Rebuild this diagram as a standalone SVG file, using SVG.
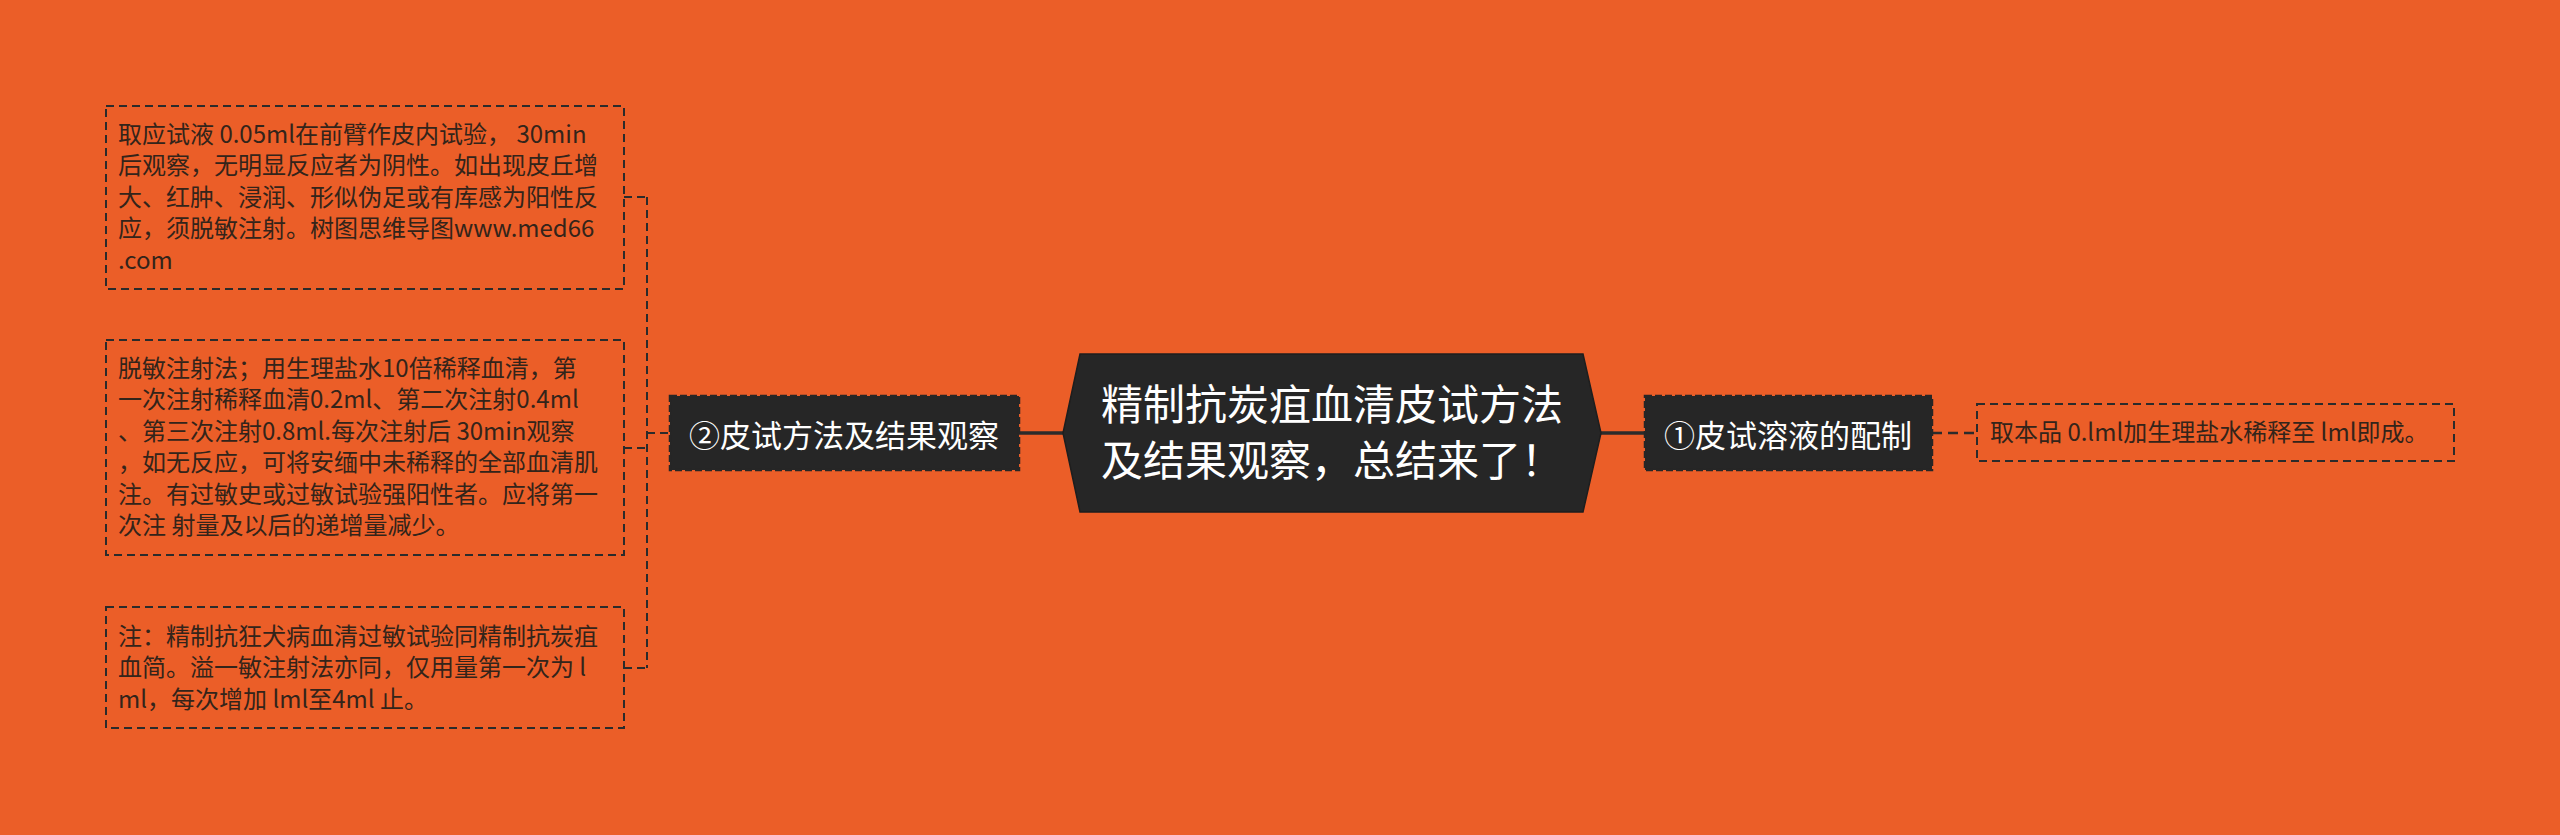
<svg xmlns="http://www.w3.org/2000/svg" width="2560" height="835" viewBox="0 0 2560 835">
<style>
.bg{fill:#EB5E28}
.leaf{fill:none;stroke:#2b2b2b;stroke-width:2;stroke-dasharray:8 5}
.lt{font-family:"Noto Sans CJK SC","Noto Sans",sans-serif;font-size:24px;fill:#33241a}
.node{fill:#262626;stroke:#262626;stroke-width:2.5;stroke-dasharray:7 3}
.nt{font-family:"Noto Sans CJK SC","Noto Sans",sans-serif;font-size:31px;fill:#ffffff;text-anchor:middle;dominant-baseline:central}
.rt{font-family:"Noto Sans CJK SC","Noto Sans",sans-serif;font-size:42px;fill:#ffffff;text-anchor:middle}
.solid{fill:none;stroke:#2b2b2b;stroke-width:3.5}
.dash{fill:none;stroke:#2b2b2b;stroke-width:2.5;stroke-dasharray:10 6}
.thin{fill:none;stroke:#2b2b2b;stroke-width:2;stroke-dasharray:8 5}
</style>
<rect class="bg" x="0" y="0" width="2560" height="835"/>
<g id="connectors">
<line class="solid" x1="1019" y1="433" x2="1063" y2="433"/>
<line class="solid" x1="1601" y1="433" x2="1645" y2="433"/>
<line class="dash" x1="1932" y1="433" x2="1977" y2="433"/>
<line class="thin" x1="647" y1="433" x2="670" y2="433"/>
<line class="thin" x1="647" y1="197" x2="647" y2="668"/>
<line class="thin" x1="624" y1="197" x2="647" y2="197"/>
<line class="thin" x1="624" y1="448" x2="647" y2="448"/>
<line class="thin" x1="624" y1="668" x2="647" y2="668"/>
</g>
<g id="root">
<polygon points="1080,354 1583,354 1601,433 1583,512 1080,512 1063,433" fill="#262626" stroke="#1e1e1e" stroke-width="1.5"/>
<text class="rt" x="1332" y="420">精制抗炭疽血清皮试方法</text>
<text class="rt" x="1332" y="476">及结果观察，总结来了！</text>
</g>
<g id="node1">
<rect class="node" x="1645" y="396" width="287" height="74"/>
<text class="nt" x="1788" y="433">①皮试溶液的配制</text>
</g>
<g id="node1-leaf">
<rect class="leaf" x="1977" y="404" width="477" height="57"/>
<text class="lt" x="1990" y="441">取本品 0.lml加生理盐水稀释至 lml即成。</text>
</g>
<g id="node2">
<rect class="node" x="670" y="396" width="349" height="74"/>
<text class="nt" x="844" y="433">②皮试方法及结果观察</text>
</g>
<g id="node2-leaf1">
<rect class="leaf" x="106" y="106" width="518" height="183"/>
<text class="lt" x="118" y="143">取应试液 0.05ml在前臂作皮内试验，  30min</text>
<text class="lt" x="118" y="174">后观察，无明显反应者为阴性。如出现皮丘增</text>
<text class="lt" x="118" y="206">大、红肿、浸润、形似伪足或有库感为阳性反</text>
<text class="lt" x="118" y="237">应，须脱敏注射。树图思维导图www.med66</text>
<text class="lt" x="118" y="269">.com</text>
</g>
<g id="node2-leaf2">
<rect class="leaf" x="106" y="340" width="518" height="215"/>
<text class="lt" x="118" y="377">脱敏注射法；用生理盐水10倍稀释血清，第</text>
<text class="lt" x="118" y="408">一次注射稀释血清0.2ml、第二次注射0.4ml</text>
<text class="lt" x="118" y="440">、第三次注射0.8ml.每次注射后 30min观察</text>
<text class="lt" x="118" y="471">，如无反应，可将安缅中未稀释的全部血清肌</text>
<text class="lt" x="118" y="503">注。有过敏史或过敏试验强阳性者。应将第一</text>
<text class="lt" x="118" y="534">次注 射量及以后的递增量减少。</text>
</g>
<g id="node2-leaf3">
<rect class="leaf" x="106" y="607" width="518" height="121"/>
<text class="lt" x="118" y="645">注：精制抗狂犬病血清过敏试验同精制抗炭疽</text>
<text class="lt" x="118" y="676">血简。溢一敏注射法亦同，仅用量第一次为 l</text>
<text class="lt" x="118" y="708">ml，每次增加 lml至4ml 止。</text>
</g>
</svg>
